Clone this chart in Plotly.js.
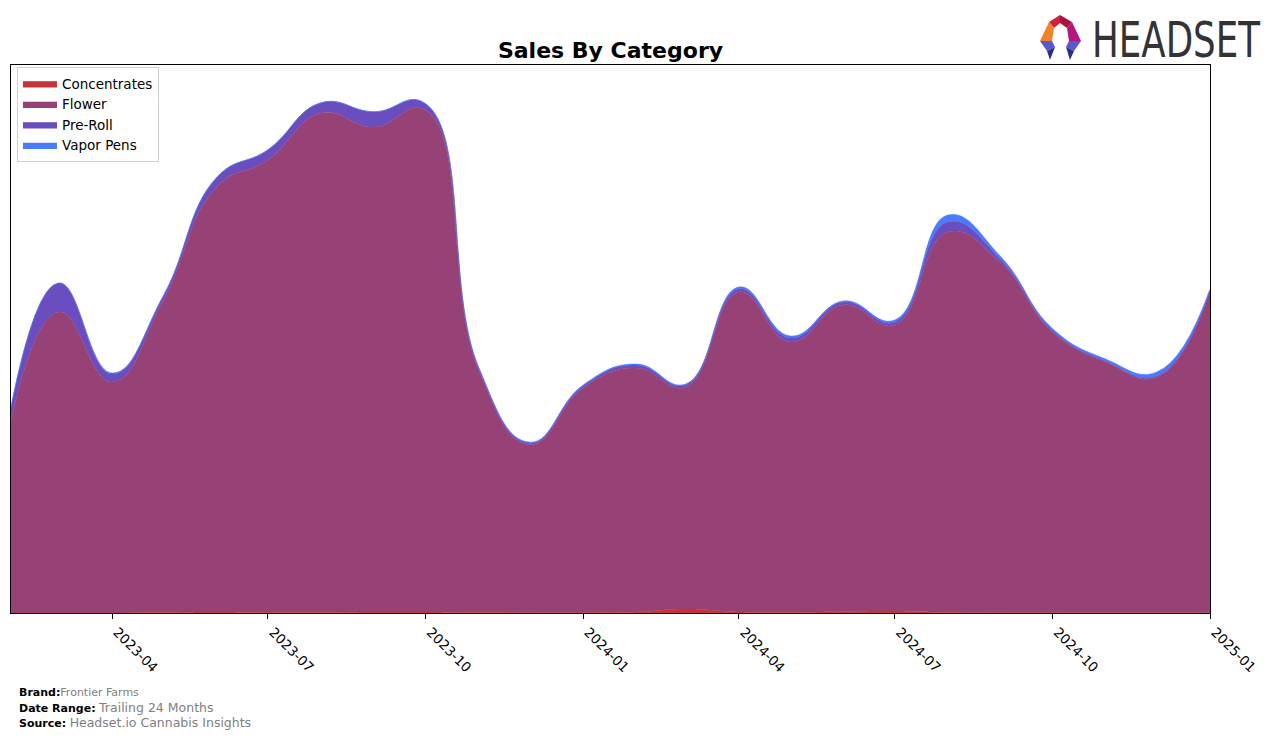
<!DOCTYPE html>
<html>
<head>
<meta charset="utf-8">
<script src="https://cdn.plot.ly/plotly-3.0.1.min.js"></script>
<style>
  html, body { margin: 0; padding: 0; background: #fff; }
  #chart { width: 1276px; height: 739px; position: relative; }
  #logo { position: absolute; left: 1030px; top: 2px; width: 246px; height: 76px; pointer-events: none; }
</style>
</head>
<body>
<div id="chart"></div>
<svg id="logo" viewBox="0 0 246 76" xmlns="http://www.w3.org/2000/svg">
  <g transform="translate(7,12)">
    <polygon points="12,8 23,1 23,9 17,14" fill="#d4203a"/>
    <polygon points="23,1 35,8 30,14 23,9" fill="#a8123c"/>
    <polygon points="12,8 17,14 15,27 3,27" fill="#f0822a"/>
    <polygon points="35,8 44,27 32,27 30,14" fill="#b3177f"/>
    <polygon points="3,27 15,27 18,33 10,37" fill="#5a58d0"/>
    <polygon points="10,37 18,33 13,46" fill="#2d2f7e"/>
    <polygon points="32,27 44,27 37,37 29,33" fill="#5a58d0"/>
    <polygon points="29,33 37,37 33,46" fill="#2d2f7e"/>
  </g>
  <g transform="translate(62,55) scale(1,1.28)">
    <text x="0" y="0" font-family="'Liberation Sans Narrow','DejaVu Sans Condensed','Liberation Sans',sans-serif" font-size="39" fill="#333333" textLength="168" lengthAdjust="spacingAndGlyphs">HEADSET</text>
  </g>
</svg>
<script>
// ---- data (monthly, values) ----
const months = ['2023-02-01','2023-03-01','2023-04-01','2023-05-01','2023-06-01','2023-07-01',
                '2023-08-01','2023-09-01','2023-10-01','2023-11-01','2023-12-01','2024-01-01',
                '2024-02-01','2024-03-01','2024-04-01','2024-05-01','2024-06-01','2024-07-01',
                '2024-08-01','2024-09-01','2024-10-01','2024-11-01','2024-12-01','2025-01-01'];

const concentrates = [0, 0, 0, 0.5, 1, 0.5, 0.5, 1, 1, 0.5, 0.3, 0.3,
                      1, 4, 1, 0.5, 1.5, 2, 0.5, 0.3, 0.3, 0.2, 0.2, 0.2];
const flower = [193, 301, 231, 312.5, 425, 452.5, 499.5, 485, 502, 242.5, 168, 224.7,
                244, 222, 320, 270.5, 306.5, 286, 380.5, 349.7, 280.7, 250.8, 235.8, 320.8];
const preRoll = [13, 29, 8, 4, 9, 10, 10, 15, 6, 2, 1.5, 2,
                 3, 2, 3, 4, 3, 3, 10, 3, 1.5, 1, 1, 1];
const vaporPens = [0, 0, 1, 0.5, 0.5, 0.3, 0.3, 0.3, 0.5, 1, 1, 1,
                   1, 1, 2, 2, 1, 2, 7, 3, 2, 2, 4, 2];

const categories = ['Concentrates', 'Flower', 'Pre-Roll', 'Vapor Pens'];
const colors = ['#c1353a', '#964277', '#6a4dbe', '#4a7bfd'];
const seriesList = [concentrates, flower, preRoll, vaporPens];

const tickVals = ['2023-04-01','2023-07-01','2023-10-01','2024-01-01','2024-04-01','2024-07-01','2024-10-01','2025-01-01'];
const tickText = ['2023-04','2023-07','2023-10','2024-01','2024-04','2024-07','2024-10','2025-01'];

const traces = categories.map((name, i) => ({
  type: 'scatter',
  mode: 'lines',
  name: name,
  x: months,
  y: seriesList[i],
  stackgroup: 'one',
  line: { shape: 'spline', smoothing: 1.3, width: 0.6, color: colors[i] },
  fillcolor: colors[i],
  hoverinfo: 'x+y+name'
}));

const font = "'DejaVu Sans', 'Liberation Sans', sans-serif";

const layout = {
  width: 1276,
  height: 739,
  margin: { l: 11, r: 66, t: 65, b: 126 },
  paper_bgcolor: '#ffffff',
  plot_bgcolor: '#ffffff',
  font: { family: font, size: 13, color: '#000' },
  title: {
    text: '<b>Sales By Category</b>',
    font: { family: font, size: 22, color: '#000' },
    x: 0.5, xref: 'paper', xanchor: 'center',
    y: 1 - 50 / 739, yref: 'container', yanchor: 'middle'
  },
  showlegend: true,
  legend: {
    x: 0.005, y: 0.996, xanchor: 'left', yanchor: 'top',
    traceorder: 'normal',
    bgcolor: 'rgba(255,255,255,0.85)',
    bordercolor: '#d0d0d0', borderwidth: 1,
    font: { family: font, size: 13.5, color: '#000' },
    itemwidth: 34, tracegroupgap: 0
  },
  xaxis: {
    type: 'date',
    range: ['2023-02-01', '2025-01-01'],
    tickvals: tickVals,
    ticktext: tickText,
    tickangle: 45,
    ticks: 'outside', ticklen: 5, tickwidth: 1, tickcolor: '#000',
    ticklabelshift: 5,
    tickfont: { family: font, size: 13.5, color: '#000' },
    showline: true, linecolor: '#000', linewidth: 1, mirror: true,
    showgrid: false, zeroline: false
  },
  yaxis: {
    range: [0, 548],
    showticklabels: false, ticks: '',
    showline: true, linecolor: '#000', linewidth: 1, mirror: true,
    showgrid: false, zeroline: false
  },
  annotations: [
    { xref: 'paper', yref: 'paper', x: (17 - 11) / 1199, y: (613 - 692) / 548, xanchor: 'left', yanchor: 'middle', showarrow: false,
      text: '<b>Brand:</b><span style="color:#808080">Frontier Farms</span>', font: { family: font, size: 11, color: '#000' } },
    { xref: 'paper', yref: 'paper', x: (17 - 11) / 1199, y: (613 - 707) / 548, xanchor: 'left', yanchor: 'middle', showarrow: false,
      text: '<b>Date Range:</b> <span style="color:#808080;font-size:12.5px">Trailing 24 Months</span>', font: { family: font, size: 11, color: '#000' } },
    { xref: 'paper', yref: 'paper', x: (17 - 11) / 1199, y: (613 - 722) / 548, xanchor: 'left', yanchor: 'middle', showarrow: false,
      text: '<b>Source:</b> <span style="color:#808080;font-size:12.5px">Headset.io Cannabis Insights</span>', font: { family: font, size: 11, color: '#000' } }
  ]
};

Plotly.newPlot('chart', traces, layout, { displayModeBar: false, staticPlot: true });
</script>
</body>
</html>
